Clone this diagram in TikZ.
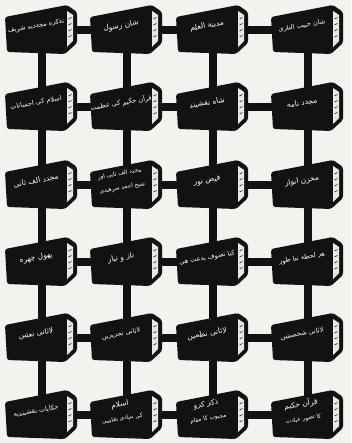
\documentclass[tikz,border=0pt]{standalone}
\usepackage{fontspec}
\newfontfamily\urdufont[Script=Arabic]{DejaVu Sans}
\TeXXeTstate=1
\definecolor{ink}{HTML}{121212}
\definecolor{paper}{HTML}{F2F2EF}
\definecolor{leaf}{HTML}{E9E9E4}
\newcommand\urline[1]{\beginR#1\endR}
\newcommand\midline[1]{{\fontsize{6.6}{8}\selectfont\beginR#1\endR}}
\newcommand\subline[1]{{\fontsize{5.8}{7}\selectfont\beginR#1\endR}}
\tikzset{
  bar/.style={draw=ink, line width=8pt},
  title/.style={font=\urdufont\fontsize{7.5}{11}\selectfont, text=white, align=center,
                inner sep=0pt, rotate=10},
  % a black hardcover lying at a slant, pages showing on the right; #1 the title
  pics/book/.style={code={
     \fill[ink, rounded corners=2.5pt] (-37,-13) -- (25,-25) -- (35,-18) -- (35,13)
          -- (23,24) -- (-35,22) -- cycle;
     \fill[leaf] (25,-19) -- (31,-15) -- (31,11) -- (25,17) -- cycle;
     \foreach \k in {-11,-5,1,7}
       \draw[ink, line width=0.5pt] (26.5,\k) -- (29.5,\k-1.5);
     \node[title] (-t) at (-6,-4) {#1};
  }},
}

\begin{document}
\begin{tikzpicture}[x=1pt, y=-1pt]
\fill[paper] (0,0) rectangle (351,443);
\useasboundingbox (0,0) rectangle (351,443);

% ================= grid of book positions =================
\foreach \r/\y in {1/30, 2/107, 3/185, 4/262, 5/338, 6/415}{
  \foreach \c/\x in {1/42, 2/127, 3/213, 4/308}{
    \coordinate (b\r\c) at (\x,\y);
  }
}

% rows and columns of bars behind the books
\foreach \r in {1,...,6}
  \draw[bar] (b\r1) -- (b\r4);
\foreach \c in {1,...,4}
  \draw[bar] (b1\c) -- (b6\c);

% ================= books =================
\pic (bk11) at (b11) {book={\midline{تذکره مجددیه شریف}}};
\pic (bk12) at (b12) {book={\urline{شان رسول}}};
\pic (bk13) at (b13) {book={\urline{مدینة العلم}}};
\pic (bk14) at (b14) {book={\midline{شان حبیب الباری}}};

\pic (bk21) at (b21) {book={\midline{اسلام کی احسانات}}};
\pic (bk22) at (b22) {book={\midline{قرآن حکیم کی عظمت}}};
\pic (bk23) at (b23) {book={\urline{شاه نقشبند}}};
\pic (bk24) at (b24) {book={\urline{مجدد نامه}}};

\pic (bk31) at (b31) {book={\urline{مجدد الف ثانی}}};
\pic (bk32) at (b32) {book={\subline{مجدد الف ثانی اور}\\[3pt]\subline{شیخ احمد سرهندی}}};
\pic (bk33) at (b33) {book={\urline{فیض نور}}};
\pic (bk34) at (b34) {book={\urline{مخزن انوار}}};

\pic (bk41) at (b41) {book={\urline{پھول چهره}}};
\pic (bk42) at (b42) {book={\urline{ناز و نیاز}}};
\pic (bk43) at (b43) {book={\midline{کیا تصوف بدعت هی}}};
\pic (bk44) at (b44) {book={\midline{هر لحظه نیا طور}}};

\pic (bk51) at (b51) {book={\urline{لاثانی نعتیں}}};
\pic (bk52) at (b52) {book={\midline{لاثانی تحریریں}}};
\pic (bk53) at (b53) {book={\urline{لاثانی نظمیں}}};
\pic (bk54) at (b54) {book={\midline{لاثانی شخصیتیں}}};

\pic (bk61) at (b61) {book={\midline{حکایات نقشبندیه}}};
\pic (bk62) at (b62) {book={\urline{اسلام}\\[3pt]\subline{کی بنیادی تقاضی}}};
\pic (bk63) at (b63) {book={\urline{ذکر کرو}\\[3pt]\subline{محبوب کا مقام}}};
\pic (bk64) at (b64) {book={\urline{قرآن حکیم}\\[3pt]\subline{کا تصور عبادت}}};

\end{tikzpicture}
\end{document}
